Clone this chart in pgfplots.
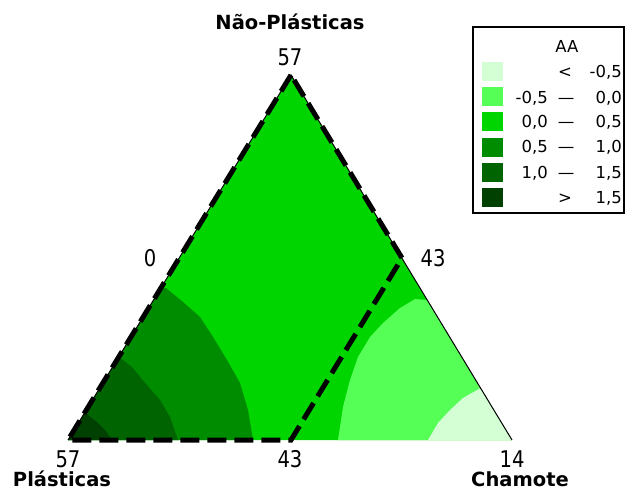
\documentclass[border=0pt]{standalone}
\usepackage{pgfplots}
\pgfplotsset{compat=1.18}
\usepackage{fontspec}
\setmainfont{DejaVu Sans}
\newfontfamily\tickfont{DejaVu Sans}[FakeStretch=0.85]
\definecolor{c1}{RGB}{212,255,212}
\definecolor{c2}{RGB}{85,255,85}
\definecolor{c3}{RGB}{0,213,0}
\definecolor{c4}{RGB}{0,140,0}
\definecolor{c5}{RGB}{0,100,0}
\definecolor{c6}{RGB}{0,64,0}
\begin{document}
\begin{tikzpicture}
\begin{axis}[width=626pt, height=492pt, scale only axis,
  xmin=0, xmax=626, ymin=0, ymax=492, y dir=reverse,
  hide axis, clip=false]
% base region 0.0 - 0.5
\addplot[fill=c3, draw=none] coordinates {(291,75) (512,440) (68,440)} -- cycle;
% 0.5 - 1.0
\addplot[fill=c4, draw=none] coordinates {(161,288) (166,288) (183,302) (200,317) (213,337) (227,360) (240,383) (248,410) (253,440) (68,440)} -- cycle;
% 1.0 - 1.5
\addplot[fill=c5, draw=none] coordinates {(119,357) (132,367) (145,383) (160,400) (170,417) (178,440) (68,440)} -- cycle;
% > 1.5
\addplot[fill=c6, draw=none] coordinates {(85,413) (97,422) (105,430) (112,440) (68,440)} -- cycle;
% -0.5 - 0.0
\addplot[fill=c2, draw=none] coordinates {(427,300) (415,299) (400,308) (383,323) (370,337) (358,357) (350,380) (343,407) (338,440) (512,440)} -- cycle;
% < -0.5
\addplot[fill=c1, draw=none] coordinates {(480.5,388) (463,398) (450,410) (438,423) (428,440) (512,440)} -- cycle;
% triangle outline
\addplot[black, line width=1pt] coordinates {(68,440) (291,75) (512,440)};
% constraint region
\addplot[black, line width=5pt, dash pattern=on 19pt off 8pt] coordinates {(291,75) (68,440) (291,440) (402,258)} -- cycle;
% labels
\tikzset{tk/.style={font=\tickfont\fontsize{23}{26}\selectfont, inner sep=0pt},
  ttl/.style={font=\bfseries\fontsize{19.5}{22}\selectfont, inner sep=0pt}}
\node[ttl] at (axis cs:290,22) {Não-Plásticas};
\node[tk] at (axis cs:290,57) {57};
\node[tk] at (axis cs:150,258) {0};
\node[tk] at (axis cs:433,258) {43};
\node[tk] at (axis cs:68,459) {57};
\node[tk] at (axis cs:290,459) {43};
\node[tk] at (axis cs:512,459) {14};
\node[ttl, anchor=base] at (axis cs:62,486) {Plásticas};
\node[ttl, anchor=base] at (axis cs:520,486) {Chamote};
% legend
\draw[line width=1.2pt] (axis cs:473,27) rectangle (axis cs:624,213);
\tikzset{lg/.style={font=\fontsize{16.5}{18}\selectfont, inner sep=0pt}}
\node[lg, anchor=base] at (axis cs:567,52.5) {AA};
\addplot[fill=c1, draw=none] coordinates {(482,62.5) (503,62.5) (503,81.5) (482,81.5)} -- cycle;
\addplot[fill=c2, draw=none] coordinates {(482,87.5) (503,87.5) (503,106.5) (482,106.5)} -- cycle;
\addplot[fill=c3, draw=none] coordinates {(482,112.5) (503,112.5) (503,131.5) (482,131.5)} -- cycle;
\addplot[fill=c4, draw=none] coordinates {(482,137.5) (503,137.5) (503,156.5) (482,156.5)} -- cycle;
\addplot[fill=c5, draw=none] coordinates {(482,162.5) (503,162.5) (503,181.5) (482,181.5)} -- cycle;
\addplot[fill=c6, draw=none] coordinates {(482,187.5) (503,187.5) (503,206.5) (482,206.5)} -- cycle;
\node[lg, anchor=base] at (axis cs:565,78) {<};
\node[lg, anchor=base east] at (axis cs:622,78) {-0,5};
\node[lg, anchor=base east] at (axis cs:548,103) {-0,5};
\node[lg, anchor=base] at (axis cs:566,103) {—};
\node[lg, anchor=base east] at (axis cs:622,103) {0,0};
\node[lg, anchor=base east] at (axis cs:548,128) {0,0};
\node[lg, anchor=base] at (axis cs:566,128) {—};
\node[lg, anchor=base east] at (axis cs:622,128) {0,5};
\node[lg, anchor=base east] at (axis cs:548,153) {0,5};
\node[lg, anchor=base] at (axis cs:566,153) {—};
\node[lg, anchor=base east] at (axis cs:622,153) {1,0};
\node[lg, anchor=base east] at (axis cs:548,178) {1,0};
\node[lg, anchor=base] at (axis cs:566,178) {—};
\node[lg, anchor=base east] at (axis cs:622,178) {1,5};
\node[lg, anchor=base] at (axis cs:565,203) {>};
\node[lg, anchor=base east] at (axis cs:622,203) {1,5};
\end{axis}
\pgfresetboundingbox
\path[use as bounding box] (current axis.south west) rectangle (current axis.north east);
\end{tikzpicture}
\end{document}
